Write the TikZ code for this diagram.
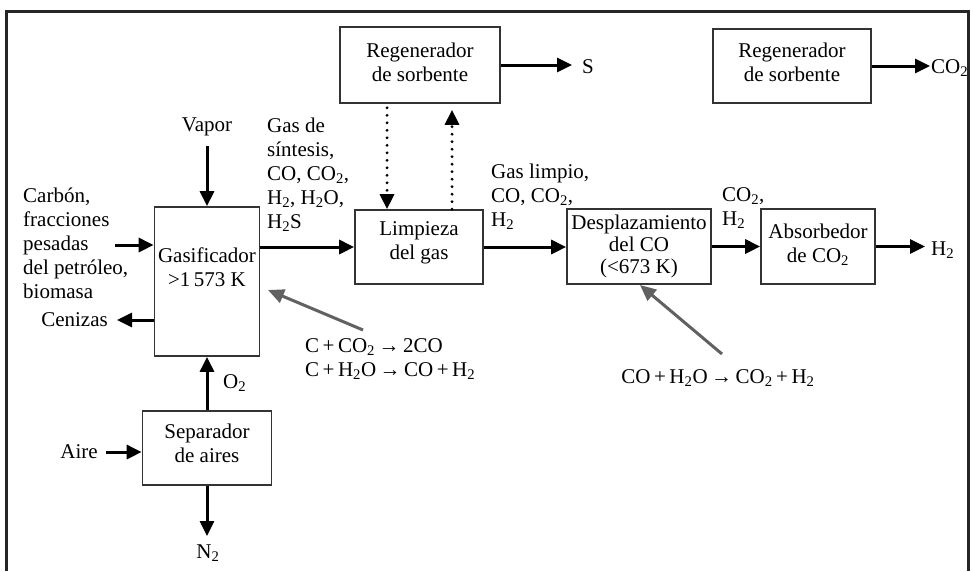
\documentclass[tikz,border=0pt]{standalone}
\usepackage{fontspec}
\setmainfont{Liberation Serif}
\usetikzlibrary{arrows.meta}
\newcommand{\dos}{\textsubscript{2}}
\begin{document}
\begin{tikzpicture}[x=1pt,y=-1pt,
  txt/.style={inner sep=0pt, font=\fontsize{21}{24}\selectfont},
  blk/.style={txt, align=left},
  ctr/.style={txt, align=center},
  unit/.style={draw=black!80, line width=1.7pt, inner sep=0pt},
  flow/.style={line width=3pt, -{Triangle[length=15pt,width=14pt]}},
  dotflow/.style={line width=3.2pt, line cap=round, dash pattern=on 0pt off 7.5pt,
                  -{Triangle[length=15pt,width=14pt]}},
  rxn/.style={draw=black!62, line width=3pt, -{Triangle[length=16pt,width=14pt,fill=black!62]}},
]
\useasboundingbox (0,0) rectangle (973,571);

% outer frame, open at the bottom
\draw[line width=3pt, black!85] (6,571) -- (6,11) -- (968,11) -- (968,571);

% process units
\node[unit, minimum width=160pt, minimum height=76pt] (regA) at (420,65) {};
\node[unit, minimum width=158pt, minimum height=74pt] (regB) at (792,66) {};
\node[unit, minimum width=105pt, minimum height=149pt] (gas) at (207,281.5) {};
\node[unit, minimum width=128pt, minimum height=74pt] (limp) at (419,247) {};
\node[unit, minimum width=144pt, minimum height=75pt] (desp) at (639,246.5) {};
\node[unit, minimum width=114pt, minimum height=75pt] (abs) at (818,246.5) {};
\node[unit, minimum width=129pt, minimum height=74pt] (sep) at (207,448) {};

% unit captions
\node[ctr] (tRegA) at (420,62) {Regenerador\\de sorbente};
\node[ctr] (tRegB) at (792,62) {Regenerador\\de sorbente};
\node[ctr] (tGas) at (207,267) {Gasificador\\>1\,573 K};
\node[ctr] (tLimp) at (419,243) {Limpieza\\del gas};
\node[ctr, font=\fontsize{21}{22}\selectfont] (tDesp) at (639,246) {Desplazamiento\\del CO\\(<673 K)};
\node[ctr] (tAbs) at (818,245) {Absorbedor\\de CO\dos};
\node[ctr] (tSep) at (207,443) {Separador\\de aires};

% stream labels
\node[txt, anchor=west] (lS) at (582,67) {S};
\node[txt, anchor=west] (lCO2) at (931,68) {CO\dos};
\node[txt] (lVap) at (207,127) {Vapor};
\node[blk, anchor=west] (lFeed) at (23,243) {Carbón,\\fracciones\\pesadas\\del petróleo,\\biomasa};
\node[txt, anchor=east] (lCen) at (108,320) {Cenizas};
\node[blk, anchor=west] (lSyn) at (267,175) {Gas de\\síntesis,\\CO, CO\dos,\\H\dos, H\dos O,\\H\dos S};
\node[blk, anchor=west] (lClean) at (491,197) {Gas limpio,\\CO, CO\dos,\\H\dos};
\node[blk, anchor=west] (lShift) at (722,208) {CO\dos,\\H\dos};
\node[txt, anchor=west] (lH2) at (931,250) {H\dos};
\node[txt, anchor=west] (lO2) at (223,383) {O\dos};
\node[txt, anchor=east] (lAire) at (98,452) {Aire};
\node[txt] (lN2) at (208,553) {N\dos};
\node[blk, anchor=west] (lR1) at (305,359) {C\,+\,CO\dos\,→\,2CO\\C\,+\,H\dos O\,→\,CO\,+\,H\dos};
\node[txt] (lR2) at (718,378) {CO\,+\,H\dos O\,→\,CO\dos\,+\,H\dos};

% free ends of the streams
\coordinate (sTip) at (572,65);
\coordinate (co2Tip) at (930,66);
\coordinate (vapTail) at (207,146);
\coordinate (feedTail) at (115,245);
\coordinate (cenTip) at (117,320);
\coordinate (h2Tip) at (925,246.5);
\coordinate (aireTail) at (106,452);
\coordinate (n2Tip) at (207,536);
\coordinate (dDown) at (387,0);
\coordinate (dUp) at (452,0);
\coordinate (r1Tail) at (363,330);
\coordinate (r1Tip) at (268,290);
\coordinate (r2Tail) at (722,354);
\coordinate (r2Tip) at (640,285);

% main streams
\draw[flow] (regA.east) -- (sTip);
\draw[flow] (regB.east) -- (co2Tip);
\draw[flow] (vapTail) -- (vapTail |- gas.north);
\draw[flow] (feedTail) -- (feedTail -| gas.west);
\draw[flow] (cenTip -| gas.west) -- (cenTip);
\draw[flow] (gas.east |- limp) -- (limp.west);
\draw[flow] (limp.east) -- (limp.east -| desp.west);
\draw[flow] (desp.east) -- (desp.east -| abs.west);
\draw[flow] (abs.east) -- (h2Tip);
\draw[flow] (sep.north) -- (sep.north |- gas.south);
\draw[flow] (aireTail) -- (aireTail -| sep.west);
\draw[flow] (sep.south) -- (n2Tip);

% sorbent loop
\draw[dotflow] (dDown |- regA.south) ++(0,4) -- (dDown |- limp.north);
\draw[dotflow, shorten >=6pt] (dUp |- limp.north) -- (dUp |- regA.south);

% reactions pointing to their units
\draw[rxn] (r1Tail) -- (r1Tip);
\draw[rxn] (r2Tail) -- (r2Tip);
\end{tikzpicture}
\end{document}
